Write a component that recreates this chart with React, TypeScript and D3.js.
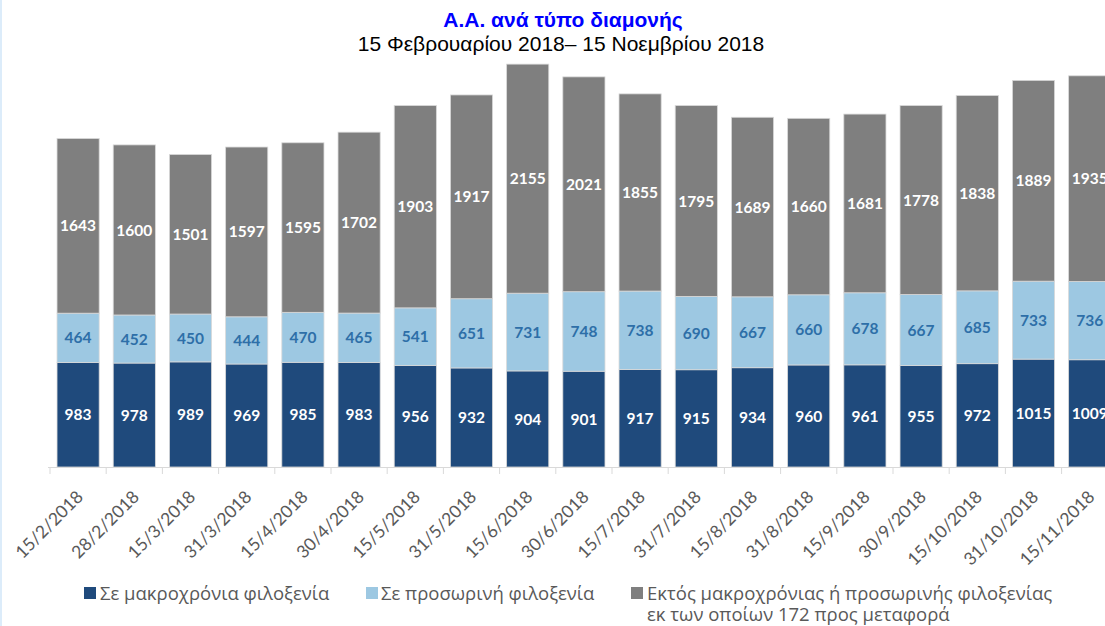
import React from "react";
import { scaleBand, scaleLinear, stack } from "d3";

const dates = [
  "15/2/2018", "28/2/2018", "15/3/2018", "31/3/2018", "15/4/2018", "30/4/2018",
  "15/5/2018", "31/5/2018", "15/6/2018", "30/6/2018", "15/7/2018", "31/7/2018",
  "15/8/2018", "31/8/2018", "15/9/2018", "30/9/2018", "15/10/2018", "31/10/2018",
  "15/11/2018",
];
const longTerm = [983, 978, 989, 969, 985, 983, 956, 932, 904, 901, 917, 915, 934, 960, 961, 955, 972, 1015, 1009];
const temporary = [464, 452, 450, 444, 470, 465, 541, 651, 731, 748, 738, 690, 667, 660, 678, 667, 685, 733, 736];
const outside = [1643, 1600, 1501, 1597, 1595, 1702, 1903, 1917, 2155, 2021, 1855, 1795, 1689, 1660, 1681, 1778, 1838, 1889, 1935];

const seriesKeys = ["longTerm", "temporary", "outside"];
const colors = ["#1F4A7C", "#9DC8E2", "#7F7F7F"];
const labelColors = ["#ffffff", "#2E6FA8", "#ffffff"];

const W = 1105;
const H = 626;
const base = 467;

const App = () => {
  const rows = dates.map((d, i) => ({
    date: d,
    longTerm: longTerm[i],
    temporary: temporary[i],
    outside: outside[i],
  }));
  const stacked = stack<any>().keys(seriesKeys)(rows);

  const x = scaleBand<string>()
    .domain(dates)
    .range([50, 50 + 56.2 * dates.length])
    .paddingInner(0.25)
    .paddingOuter(0.125);
  const y = scaleLinear().domain([0, 4000]).range([base, base - 4000 * 0.1063]);
  const step = x.step();
  const x0 = 50;

  return (
    <svg width={W} height={H} style={{ position: "fixed", left: 0, top: 0 }}>
      <rect x={0} y={0} width={W} height={H} fill="#fff" />
      <rect x={0} y={0} width={2} height={H} fill="#dcecfa" />
      {/* titles */}
      <text x={563} y={27} textAnchor="middle" fontFamily="Liberation Sans, Arial" fontWeight={700} fontSize={21} fill="#0000FF">
        Α.Α. ανά τύπο διαμονής
      </text>
      <text x={561} y={51} textAnchor="middle" fontFamily="Liberation Sans, Arial" fontSize={21} fill="#000">
        15 Φεβρουαρίου 2018– 15 Νοεμβρίου 2018
      </text>

      {/* bars */}
      {stacked.map((layer, si) => (
        <g key={si}>
          {layer.map((seg, i) => (
            <rect
              key={i}
              x={x(dates[i])}
              y={y(seg[1])}
              width={x.bandwidth()}
              height={y(seg[0]) - y(seg[1])}
              fill={colors[si]}
              stroke="#d9d9d9"
              strokeWidth={0.8}
            />
          ))}
        </g>
      ))}

      {/* labels */}
      {stacked.map((layer, si) => (
        <g key={"l" + si}>
          {layer.map((seg, i) => (
            <text
              key={i}
              x={(x(dates[i]) as number) + x.bandwidth() / 2}
              y={(y(seg[0]) + y(seg[1])) / 2}
              dy="0.36em"
              textAnchor="middle"
              fontFamily="Lato, Open Sans"
              fontWeight={700}
              fontSize={15.5}
              fill={labelColors[si]}
            >
              {seg[1] - seg[0]}
            </text>
          ))}
        </g>
      ))}

      {/* axis */}
      <line x1={x0 - 2} x2={W} y1={base + 0.5} y2={base + 0.5} stroke="#d9d9d9" strokeWidth={1} />
      {dates.map((d, i) => (
        <line key={"t" + i} x1={x0 + step * i} x2={x0 + step * i} y1={base} y2={base + 7} stroke="#d9d9d9" strokeWidth={1} />
      ))}
      {dates.map((d, i) => {
        const cx = (x(d) as number) + x.bandwidth() / 2 + 6;
        return (
          <text
            key={"x" + i}
            transform={`translate(${cx},${base + 31}) rotate(-45)`}
            textAnchor="end"
            fontFamily="Lato, Open Sans"
            fontSize={17.5}
            fill="#595959"
          >
            {d}
          </text>
        );
      })}

      {/* legend */}
      <g fontFamily="Open Sans, Lato" fontSize={18.5} fill="#595959">
        <rect x={84} y={587} width={12} height={12} fill={colors[0]} />
        <text x={100} y={600}>Σε μακροχρόνια φιλοξενία</text>
        <rect x={366} y={587} width={12} height={12} fill={colors[1]} />
        <text x={381} y={600}>Σε προσωρινή φιλοξενία</text>
        <rect x={631} y={587} width={12} height={12} fill={colors[2]} />
        <text x={647} y={600}>Εκτός μακροχρόνιας ή προσωρινής φιλοξενίας</text>
        <text x={647} y={621}>εκ των οποίων 172 προς μεταφορά</text>
      </g>
    </svg>
  );
};

export default App;
